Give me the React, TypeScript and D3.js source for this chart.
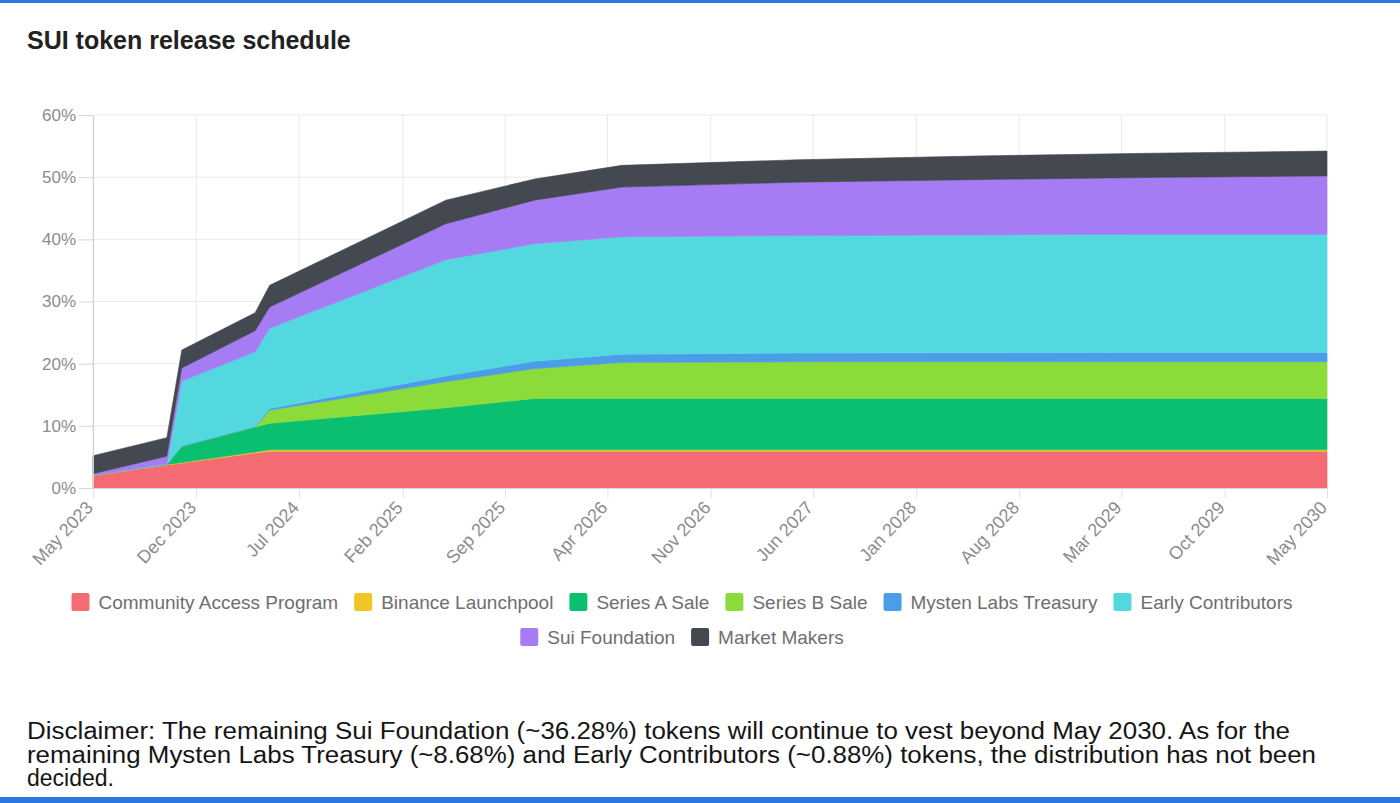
import React, { useRef, useEffect } from "react";
import * as d3 from "d3";

// release dates (month + year) at which the schedule changes slope
const dates = [
  "May 2023", "Oct 2023", "Nov 2023", "Apr 2024", "May 2024", "May 2025",
  "Nov 2025", "May 2026", "May 2027", "May 2028", "May 2029", "May 2030",
];

// % of total supply unlocked per category at each date
const communityAccess = [2.0, 3.7, 4.0, 5.65, 5.9, 5.9, 5.9, 5.9, 5.9, 5.9, 5.9, 5.9];
const binanceLaunchpool = [0.1, 0.1, 0.1, 0.15, 0.25, 0.25, 0.25, 0.25, 0.25, 0.25, 0.25, 0.25];
const seriesA = [0, 0, 2.6, 4.0, 4.25, 6.75, 8.25, 8.25, 8.25, 8.25, 8.25, 8.25];
const seriesB = [0, 0, 0, 0, 2.1, 4.2, 4.8, 5.8, 5.9, 5.9, 5.9, 5.9];
const mystenTreasury = [0, 0, 0.1, 0.1, 0.3, 0.9, 1.2, 1.3, 1.4, 1.45, 1.5, 1.5];
const earlyContributors = [0, 0.1, 10.4, 12.0, 12.9, 18.7, 18.9, 18.9, 18.9, 18.95, 19.0, 19.0];
const suiFoundation = [0.2, 1.2, 2.1, 3.4, 3.4, 5.8, 7.0, 8.0, 8.6, 8.9, 9.15, 9.4];
const marketMakers = [2.9, 3.0, 2.9, 2.9, 3.5, 3.8, 3.4, 3.5, 3.6, 3.8, 3.9, 4.0];

const seriesNames = [
  "Community Access Program", "Binance Launchpool", "Series A Sale", "Series B Sale",
  "Mysten Labs Treasury", "Early Contributors", "Sui Foundation", "Market Makers",
];
const seriesValues = [
  communityAccess, binanceLaunchpool, seriesA, seriesB,
  mystenTreasury, earlyContributors, suiFoundation, marketMakers,
];
const seriesColors = [
  "#f56b73", "#f2c525", "#0bbf70", "#8bdb3b",
  "#4b9de8", "#54d8e0", "#a67cf4", "#444851",
];

const yTicks = [0, 10, 20, 30, 40, 50, 60];
const xTickLabels = [
  "May 2023", "Dec 2023", "Jul 2024", "Feb 2025", "Sep 2025", "Apr 2026", "Nov 2026",
  "Jun 2027", "Jan 2028", "Aug 2028", "Mar 2029", "Oct 2029", "May 2030",
];

const disclaimer = [
  "Disclaimer: The remaining Sui Foundation (~36.28%) tokens will continue to vest beyond May 2030. As for the",
  "remaining Mysten Labs Treasury (~8.68%) and Early Contributors (~0.88%) tokens, the distribution has not been",
  "decided.",
];

const FONT = "'Liberation Sans', Arial, Helvetica, sans-serif";

const App = () => {
  const ref = useRef<SVGSVGElement>(null);

  useEffect(() => {
    if (!ref.current) return;
    const svg = d3.select(ref.current);
    svg.selectAll("*").remove();

    const parse = d3.timeParse("%b %Y");
    const margin = { top: 115, left: 93, right: 73, bottom: 315 };
    const W = 1400;
    const H = 803;

    svg.append("rect").attr("width", W).attr("height", H).attr("fill", "#fff");

    // blue frame lines
    svg.append("rect").attr("x", 0).attr("y", 0).attr("width", W).attr("height", 3).attr("fill", "#2a78df");
    svg.append("rect").attr("x", 0).attr("y", 797).attr("width", W).attr("height", 6).attr("fill", "#2a78df");

    svg
      .append("text")
      .attr("x", 27)
      .attr("y", 49)
      .attr("font-family", FONT)
      .attr("font-weight", "bold")
      .attr("font-size", 25)
      .attr("fill", "#222")
      .text("SUI token release schedule");

    const x = d3
      .scaleTime()
      .domain([parse(xTickLabels[0]) as Date, parse(xTickLabels[xTickLabels.length - 1]) as Date])
      .range([margin.left, W - margin.right]);
    const y = d3.scaleLinear().domain([0, 60]).range([H - margin.bottom, margin.top]);

    const rows = dates.map((d, i) => {
      const row: any = { date: parse(d) };
      seriesNames.forEach((name, k) => (row[name] = seriesValues[k][i]));
      return row;
    });
    const stacked = d3.stack().keys(seriesNames)(rows);

    // grid
    const grid = svg.append("g");
    grid
      .selectAll("line.h")
      .data(yTicks)
      .join("line")
      .attr("x1", margin.left)
      .attr("x2", W - margin.right)
      .attr("y1", (d) => y(d))
      .attr("y2", (d) => y(d))
      .attr("stroke", "#e9e9e9");
    grid
      .selectAll("line.v")
      .data(xTickLabels)
      .join("line")
      .attr("x1", (d) => x(parse(d) as Date))
      .attr("x2", (d) => x(parse(d) as Date))
      .attr("y1", margin.top)
      .attr("y2", H - margin.bottom)
      .attr("stroke", "#e9e9e9");

    // stacked areas
    const area = d3
      .area<any>()
      .x((d) => x(d.data.date))
      .y0((d) => y(d[0]))
      .y1((d) => y(d[1]));
    svg
      .append("g")
      .selectAll("path")
      .data(stacked)
      .join("path")
      .attr("d", area as any)
      .attr("fill", (_, i) => seriesColors[i])
      .attr("stroke", (_, i) => seriesColors[i])
      .attr("stroke-width", 0.6);

    // y axis
    const yAxis = svg
      .append("g")
      .attr("transform", `translate(${margin.left},0)`)
      .call(
        d3
          .axisLeft(y)
          .tickValues(yTicks)
          .tickSize(14)
          .tickPadding(3)
          .tickFormat((d) => `${d}%`)
      );
    yAxis.select(".domain").attr("stroke", "#cfcfcf");
    yAxis.selectAll(".tick line").attr("stroke", "#d6d6d6");
    yAxis
      .selectAll(".tick text")
      .attr("font-family", FONT)
      .attr("font-size", 17)
      .attr("fill", "#8c8c8c");

    // x axis
    const xAxis = svg
      .append("g")
      .attr("transform", `translate(0,${H - margin.bottom})`)
      .call(
        d3
          .axisBottom(x)
          .tickValues(xTickLabels.map((d) => parse(d) as Date))
          .tickSize(10)
          .tickFormat((d) => d3.timeFormat("%b %Y")(d as Date))
      );
    xAxis.select(".domain").attr("stroke", "#d6d6d6");
    xAxis.selectAll(".tick line").attr("stroke", "#e2e2e2");
    xAxis
      .selectAll(".tick text")
      .attr("font-family", FONT)
      .attr("font-size", 18)
      .attr("fill", "#8c8c8c")
      .attr("text-anchor", "end")
      .attr("y", 0)
      .attr("dy", "0.35em")
      .attr("transform", "translate(-4,16) rotate(-47)");

    // legend
    const legendRows = [
      [0, 1, 2, 3, 4, 5],
      [6, 7],
    ];
    const legendY = [602, 637];
    const cx = 682;
    legendRows.forEach((items, r) => {
      const g = svg.append("g");
      let cursor = 0;
      items.forEach((k) => {
        const item = g.append("g").attr("transform", `translate(${cursor},0)`);
        item
          .append("rect")
          .attr("x", 0)
          .attr("y", -9)
          .attr("width", 18)
          .attr("height", 18)
          .attr("rx", 2)
          .attr("fill", seriesColors[k]);
        const t = item
          .append("text")
          .attr("x", 27)
          .attr("y", 0)
          .attr("dy", "0.35em")
          .attr("font-family", FONT)
          .attr("font-size", 19)
          .attr("fill", "#6e6e6e")
          .text(seriesNames[k]);
        const w = (t.node() as SVGTextElement).getComputedTextLength();
        cursor += 27 + w + 16;
      });
      const total = cursor - 16;
      g.attr("transform", `translate(${cx - total / 2},${legendY[r]})`);
    });

    // disclaimer
    const lineWidths = [1263, 1289, null];
    svg
      .append("g")
      .selectAll("text")
      .data(disclaimer)
      .join("text")
      .attr("x", 27)
      .attr("y", (_, i) => 739 + i * 23.5)
      .attr("font-family", FONT)
      .attr("font-size", 23)
      .attr("fill", "#151515")
      .attr("textLength", (_, i) => lineWidths[i])
      .attr("lengthAdjust", "spacingAndGlyphs")
      .text((d) => d);
  }, []);

  return (
    <div style={{ position: "absolute", left: 0, top: 0 }}>
      <svg ref={ref} width={1400} height={803} style={{ display: "block" }} />
    </div>
  );
};

export default App;
